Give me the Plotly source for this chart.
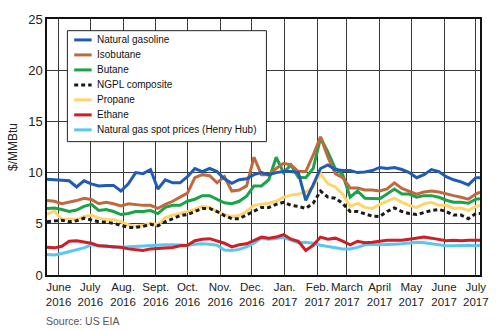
import pandas as pd
import plotly.graph_objects as go

# Weekly sample dates (last point closes the series at the right edge)
dates = pd.date_range("2016-05-21", "2017-07-01", freq="7D").append(
    pd.DatetimeIndex(["2017-07-05"]))

natural_gasoline = [
    9.35, 9.3, 9.3, 9.2, 8.6, 9.2, 8.9, 8.7, 8.75, 8.75,
    8.2, 8.9, 10.0, 9.9, 10.3, 8.4, 9.3, 9.0, 9.0, 9.6,
    10.4, 10.1, 10.4, 10.1, 9.4, 8.95, 9.3, 9.4, 9.8, 10.0,
    9.8, 10.0, 10.1, 10.1, 10.0, 7.3, 8.8, 10.4, 10.75, 10.3,
    10.2, 10.2, 10.0, 10.05, 10.2, 10.5, 10.4, 10.5, 10.3, 10.0,
    9.5, 9.8, 10.3, 10.1, 9.6, 9.3, 9.1, 8.8, 9.5, 9.5]
isobutane = [
    7.27, 7.2, 6.96, 7.1, 7.27, 7.5, 7.37, 6.96, 7.1, 6.96,
    6.74, 6.96, 6.86, 6.8, 6.8, 6.5, 6.9, 7.2, 7.6, 8.0,
    9.5, 9.8, 9.7, 9.0, 9.6, 8.2, 8.3, 8.7, 11.5, 9.8,
    9.8, 10.4, 10.9, 10.75, 10.1, 10.1, 11.7, 13.5, 11.5, 9.9,
    9.5, 8.5, 8.5, 8.3, 8.3, 8.2, 8.4, 9.0, 8.45, 8.2,
    7.9, 8.1, 8.2, 8.1, 7.9, 7.75, 7.6, 7.4, 7.9, 8.1]
butane = [
    6.5, 6.55, 6.4, 6.2, 6.35, 6.7, 6.9, 6.3, 6.4, 6.2,
    5.9, 6.0, 6.2, 6.2, 6.3, 6.0, 6.6, 6.8, 6.8, 7.2,
    7.4, 7.75, 7.75, 7.37, 7.05, 6.96, 7.2, 7.7, 8.7, 8.7,
    9.3, 11.5, 10.0, 10.75, 9.55, 9.5, 10.4, 13.4, 12.0, 10.4,
    9.8, 7.6, 8.2, 7.5, 7.5, 7.45, 7.9, 8.4, 7.9, 7.9,
    7.6, 7.75, 7.75, 7.6, 7.3, 7.1, 7.1, 7.0, 7.4, 7.45]
ngpl_composite = [
    5.2, 5.25, 5.35, 5.2, 5.3, 5.55, 5.4, 5.2, 5.15, 5.05,
    4.85, 4.65, 4.65, 4.75, 4.95, 4.8, 5.2, 5.5, 5.8, 5.9,
    6.2, 6.5, 6.5, 6.2, 5.8, 5.5, 5.5, 5.85, 6.2, 6.6,
    6.6, 6.9, 7.1, 6.8, 6.7, 6.5, 7.0, 8.2, 7.6, 7.5,
    7.0, 6.2, 6.2, 5.95, 5.75, 5.7, 6.2, 6.55, 6.2, 6.0,
    5.9, 6.1, 6.3, 6.4, 6.2, 5.85, 5.85, 5.5, 6.0, 6.0]
propane = [
    5.95, 6.25, 5.4, 5.5, 5.4, 5.7, 5.85, 5.55, 5.4, 5.4,
    5.2, 4.9, 4.75, 4.85, 5.05, 4.9, 5.6, 5.85, 6.0, 6.2,
    6.4, 6.7, 6.6, 6.2, 5.9, 5.7, 5.8, 6.2, 6.8, 6.9,
    7.0, 7.2, 7.6, 7.8, 7.9, 8.1, 8.6, 9.9, 8.9, 8.6,
    7.9, 6.7, 7.0, 6.6, 6.5, 6.9, 7.2, 7.5, 7.1, 6.8,
    6.6, 6.95, 7.1, 6.8, 6.8, 6.5, 6.55, 6.3, 6.7, 6.8]
ethane = [
    2.7, 2.65, 2.8, 3.3, 3.35, 3.2, 3.1, 2.85, 2.8, 2.7,
    2.7, 2.55, 2.45, 2.4, 2.55, 2.6, 2.62, 2.68, 2.85, 2.9,
    3.35, 3.5, 3.55, 3.3, 3.1, 2.75, 2.95, 3.05, 3.35, 3.7,
    3.6, 3.7, 3.95, 3.5, 3.3, 2.4, 2.9, 3.7, 3.5, 3.6,
    3.3, 2.95, 3.3, 3.15, 3.2, 3.3, 3.4, 3.4, 3.4, 3.5,
    3.6, 3.7, 3.6, 3.5, 3.35, 3.4, 3.35, 3.4, 3.4, 3.4]
henry_hub = [
    2.0, 1.95, 2.1, 2.3, 2.45, 2.65, 2.95, 2.85, 2.85, 2.7,
    2.7, 2.75, 2.8, 2.85, 2.9, 2.9, 2.95, 2.95, 2.95, 2.9,
    3.0, 3.05, 3.0, 2.9, 2.45, 2.4, 2.5, 2.75, 3.1, 3.6,
    3.5, 3.55, 3.65, 3.4, 3.16, 3.2, 3.1, 2.9, 2.8, 2.7,
    2.55, 2.55, 2.7, 2.95, 3.0, 2.95, 2.95, 3.0, 3.05, 3.1,
    3.2, 3.15, 3.05, 3.0, 2.85, 2.85, 2.9, 2.9, 2.85, 2.9]

series_names = ["Natural gasoline", "Isobutane", "Butane", "NGPL composite",
                "Propane", "Ethane", "Natural gas spot prices (Henry Hub)"]
series_values = [natural_gasoline, isobutane, butane, ngpl_composite,
                 propane, ethane, henry_hub]
series_colors = ["#1f5db4", "#bf6a3e", "#1ba34a", "#1a1a1a",
                 "#ffd46b", "#cc1f26", "#5cc6ef"]
series_dash = ["solid", "solid", "solid", "4px,3px", "solid", "solid", "solid"]

tick_dates = pd.date_range("2016-06-01", "2017-07-01", freq="MS")
tick_text = ["June<br>2016", "July<br>2016", "Aug.<br>2016", "Sept.<br>2016",
             "Oct.<br>2016", "Nov.<br>2016", "Dec.<br>2016", "Jan.<br>2017",
             "Feb.<br>2017", "March<br>2017", "April<br>2017", "May<br>2017",
             "June<br>2017", "July<br>2017"]

FONT = "Liberation Sans, Arial, sans-serif"
W, H = 500, 331
MARGIN = dict(l=39, r=15, t=12, b=56)
PLOT_W = W - MARGIN["l"] - MARGIN["r"]
PLOT_H = H - MARGIN["t"] - MARGIN["b"]


def px_x(p):
    """Horizontal pixel position -> paper fraction."""
    return (p - MARGIN["l"]) / PLOT_W


def px_y(p):
    """Vertical pixel position (from top) -> paper fraction."""
    return (H - MARGIN["b"] - p) / PLOT_H


fig = go.Figure()
# Draw from the bottom of the key upward so gasoline sits on top
for name, vals, color, dash in reversed(list(zip(series_names, series_values,
                                                  series_colors, series_dash))):
    fig.add_trace(go.Scatter(
        x=dates, y=vals, name=name, mode="lines",
        line=dict(color=color, width=3, dash=dash),
        showlegend=False,
    ))

# Compact boxed key in the upper-left of the plot
shapes = [dict(type="rect", xref="paper", yref="paper", layer="above",
               x0=px_x(60), x1=px_x(265), y0=px_y(138), y1=px_y(24),
               fillcolor="white", line=dict(color="#222", width=1))]
annotations = []
row_top, row_step = 33.5, 15.4
for i, (name, color, dash) in enumerate(zip(series_names, series_colors,
                                            series_dash)):
    yc = px_y(row_top + i * row_step)
    shapes.append(dict(type="line", xref="paper", yref="paper", layer="above",
                       x0=px_x(67), x1=px_x(85), y0=yc, y1=yc,
                       line=dict(color=color, width=3, dash=dash)))
    annotations.append(dict(text=name, xref="paper", yref="paper",
                            x=px_x(88), y=yc, xanchor="left", yanchor="middle",
                            showarrow=False,
                            font=dict(family=FONT, size=10, color="#111")))

annotations.append(dict(
    text="Source: US EIA", xref="paper", yref="paper",
    x=px_x(36), y=px_y(322), xanchor="left", yanchor="middle", showarrow=False,
    font=dict(family=FONT, size=10.5, color="#555"),
))

fig.update_layout(
    width=W, height=H,
    margin=MARGIN,
    paper_bgcolor="white", plot_bgcolor="white",
    font=dict(family=FONT, size=12, color="#222"),
    showlegend=False,
    xaxis=dict(
        type="date", range=["2016-05-21", "2017-07-05"],
        tickvals=tick_dates, ticktext=tick_text, ticks="", tickangle=0,
        showgrid=True, gridcolor="#3a3a3a", gridwidth=1,
        showline=True, linecolor="#111", linewidth=1.5, mirror=True,
        tickfont=dict(size=11.5, color="#222"),
    ),
    yaxis=dict(
        range=[0, 25], tickvals=[0, 5, 10, 15, 20, 25], ticks="",
        showgrid=True, gridcolor="#3a3a3a", gridwidth=1,
        showline=True, linecolor="#111", linewidth=1.5, mirror=True,
        zeroline=False,
        tickfont=dict(size=13, color="#222"),
        title=dict(text="$/MMBtu", font=dict(size=12, color="#222"), standoff=8),
    ),
    shapes=shapes,
    annotations=annotations,
)

fig.write_html("out.html")
